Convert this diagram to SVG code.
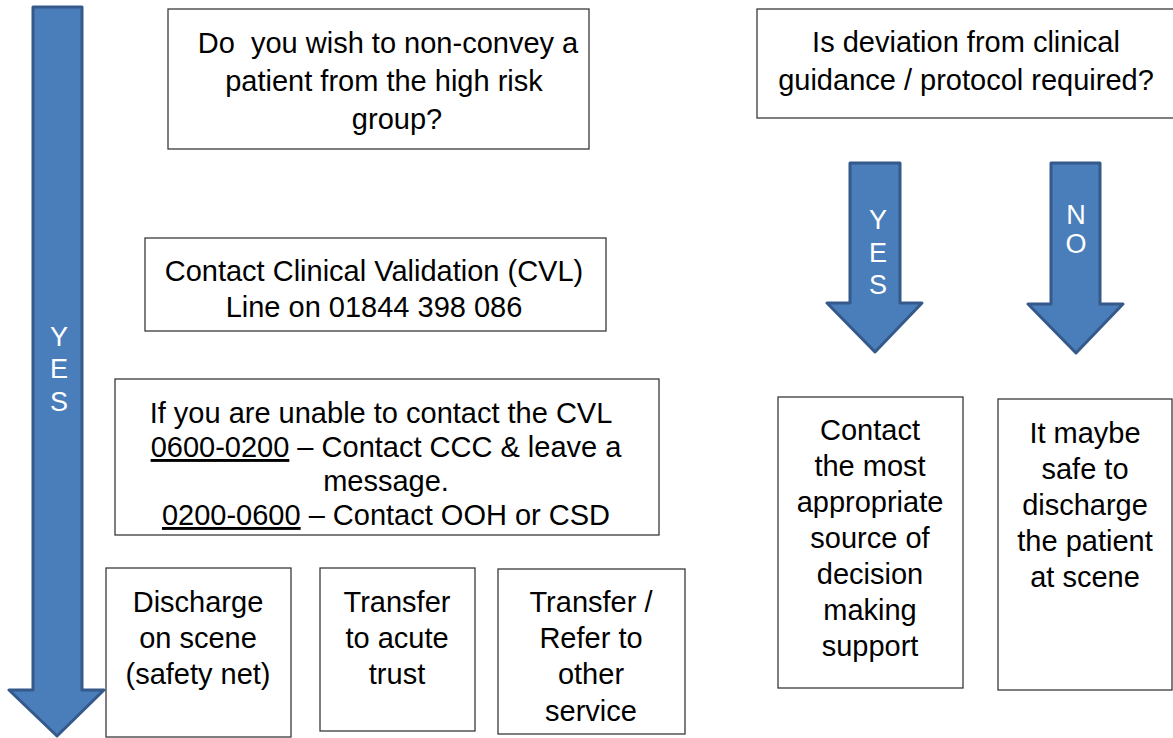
<svg xmlns="http://www.w3.org/2000/svg" width="1173" height="738" viewBox="0 0 1173 738">
<style>
.box{fill:#fff;stroke:#3a3a3a;stroke-width:1.3}
.t{font-family:"Liberation Sans",Arial,sans-serif;font-size:29px;fill:#000;text-anchor:middle}
.arr{fill:#4a7ebb;stroke:#34598a;stroke-width:3;stroke-linejoin:round}
.w{font-family:"Liberation Sans",Arial,sans-serif;font-size:27px;fill:#fff;text-anchor:middle}
.u{text-decoration:underline}
</style>
<g id="connectors">
<g id="arrow-left-yes">
<path class="arr" d="M33,7 H82 V690 H104 L57,736 L9,690 H33 Z"/>
<text class="w" x="59" y="346">Y</text>
<text class="w" x="59" y="378">E</text>
<text class="w" x="59" y="411">S</text>
</g>
<g id="arrow-right-yes">
<path class="arr" d="M850,163 H900 V303 H922 L875,352 L827,303 H850 Z"/>
<text class="w" x="878" y="229">Y</text>
<text class="w" x="878" y="262">E</text>
<text class="w" x="878" y="294">S</text>
</g>
<g id="arrow-right-no">
<path class="arr" d="M1051,163 H1100 V304 H1123 L1076,353 L1028,304 H1051 Z"/>
<text class="w" x="1076" y="224">N</text>
<text class="w" x="1076" y="253">O</text>
</g>
</g>
<g id="node-question">
<rect class="box" x="168" y="9" width="421" height="140"/>
<text class="t" x="388" y="53" xml:space="preserve">Do  you wish to non-convey a</text>
<text class="t" x="384" y="91">patient from the high risk</text>
<text class="t" x="397" y="129">group?</text>
</g>
<g id="node-cvl">
<rect class="box" x="145" y="238" width="461" height="93"/>
<text class="t" x="374" y="281">Contact Clinical Validation (CVL)</text>
<text class="t" x="374" y="317">Line on 01844 398 086</text>
</g>
<g id="node-unable">
<rect class="box" x="115" y="379" width="544" height="156"/>
<text class="t" x="381" y="423">If you are unable to contact the CVL</text>
<text class="t" x="386" y="457"><tspan class="u">0600-0200</tspan> – Contact CCC &amp; leave a</text>
<text class="t" x="386" y="491">message.</text>
<text class="t" x="386" y="525"><tspan class="u">0200-0600</tspan> – Contact OOH or CSD</text>
</g>
<g id="node-discharge">
<rect class="box" x="106" y="568" width="185" height="169"/>
<text class="t" x="198" y="612">Discharge</text>
<text class="t" x="198" y="648">on scene</text>
<text class="t" x="198" y="684">(safety net)</text>
</g>
<g id="node-transfer-acute">
<rect class="box" x="320" y="568" width="155" height="163"/>
<text class="t" x="397" y="612">Transfer</text>
<text class="t" x="397" y="648">to acute</text>
<text class="t" x="397" y="684">trust</text>
</g>
<g id="node-transfer-refer">
<rect class="box" x="498" y="569" width="187" height="165"/>
<text class="t" x="591" y="612">Transfer /</text>
<text class="t" x="591" y="648">Refer to</text>
<text class="t" x="591" y="684">other</text>
<text class="t" x="591" y="721">service</text>
</g>
<g id="node-deviation">
<rect class="box" x="757" y="9" width="430" height="109"/>
<text class="t" x="966" y="52">Is deviation from clinical</text>
<text class="t" x="966" y="90">guidance / protocol required?</text>
</g>
<g id="node-contact-support">
<rect class="box" x="778" y="397" width="185" height="291"/>
<text class="t" x="870" y="440">Contact</text>
<text class="t" x="870" y="476">the most</text>
<text class="t" x="870" y="512">appropriate</text>
<text class="t" x="870" y="548">source of</text>
<text class="t" x="870" y="584">decision</text>
<text class="t" x="870" y="620">making</text>
<text class="t" x="870" y="656">support</text>
</g>
<g id="node-safe-discharge">
<rect class="box" x="998" y="399" width="174" height="291"/>
<text class="t" x="1085" y="443">It maybe</text>
<text class="t" x="1085" y="479">safe to</text>
<text class="t" x="1085" y="515">discharge</text>
<text class="t" x="1085" y="551">the patient</text>
<text class="t" x="1085" y="587">at scene</text>
</g>
</svg>
